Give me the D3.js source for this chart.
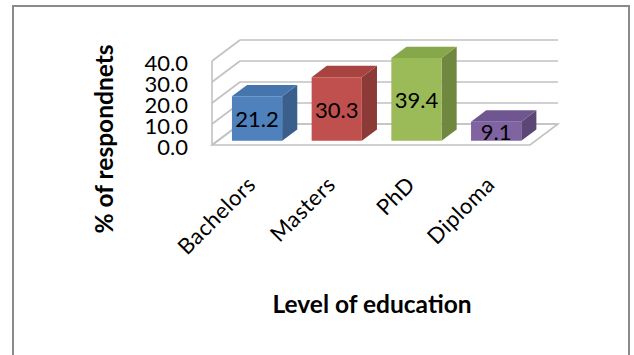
<!DOCTYPE html>
<html>
<head>
<meta charset="utf-8">
<script src="https://cdn.jsdelivr.net/npm/d3@7"></script>
<style>
  body { margin: 0; background: #fff; }
  text { font-family: Lato, "Open Sans", sans-serif; }
</style>
</head>
<body>
<svg id="chart" width="634" height="355"></svg>
<script>
const categories = ["Bachelors", "Masters", "PhD", "Diploma"];
const values = [21.2, 30.3, 39.4, 9.1];
const yTicks = [0, 10, 20, 30, 40];
const fronts = ["#4f81bd", "#c0504d", "#9bbb59", "#8064a2"];
const tops = ["#4674ad", "#a9433f", "#87a74b", "#6f5690"];
const sides = ["#3a5f8c", "#8c3a38", "#6f873f", "#5b4676"];

const svg = d3.select("#chart");

// outer frame
svg.append("rect")
  .attr("x", 13).attr("y", 6)
  .attr("width", 616).attr("height", 360)
  .attr("fill", "#fff")
  .attr("stroke", "#8a8a8a")
  .attr("stroke-width", 2);

// front plane scales, depth goes up-right
const x = d3.scaleBand()
  .domain(categories)
  .range([212, 530])
  .paddingInner(0.37)
  .paddingOuter(0.18);

const y = d3.scaleLinear().domain([0, 40]).range([145, 61]);
const depth = { dx: 28, dy: -21 };
const proj = (px, py, z) => [px + depth.dx * z, py + depth.dy * z];

const grid = svg.append("g")
  .attr("fill", "none")
  .attr("stroke", "#c2c2c2")
  .attr("stroke-width", 1.6);

// floor
const floor = [proj(212, y(0), 0), proj(530, y(0), 0), proj(530, y(0), 1), proj(212, y(0), 1)];
grid.append("path")
  .attr("d", d3.line()(floor) + "Z")
  .attr("fill", "#fff");

// back wall gridlines + left wall lines
yTicks.forEach((t) => {
  const a = proj(212, y(t), 1);
  const b = proj(530, y(t), 1);
  grid.append("line")
    .attr("x1", a[0]).attr("y1", a[1])
    .attr("x2", b[0]).attr("y2", b[1]);
  grid.append("line")
    .attr("x1", 212).attr("y1", y(t))
    .attr("x2", a[0]).attr("y2", a[1]);
});
grid.append("line")
  .attr("x1", 212).attr("y1", y(40))
  .attr("x2", 212).attr("y2", y(0));

// bars
const z0 = 0.2, z1 = 0.74;
const bars = svg.append("g");
categories.forEach((c, i) => {
  const l = x(c), r = x(c) + x.bandwidth();
  const b = y(0), t = y(values[i]);
  const fl = proj(l, b, z0), fr = proj(r, b, z0);
  const tl = proj(l, t, z0), tr = proj(r, t, z0);
  const btr = proj(r, t, z1), btl = proj(l, t, z1), bbr = proj(r, b, z1);

  bars.append("path")
    .attr("d", d3.line()([fr, tr, btr, bbr]) + "Z")
    .attr("fill", sides[i]);
  bars.append("path")
    .attr("d", d3.line()([tl, tr, btr, btl]) + "Z")
    .attr("fill", tops[i]);
  bars.append("path")
    .attr("d", d3.line()([fl, fr, tr, tl]) + "Z")
    .attr("fill", fronts[i]);

  bars.append("text")
    .attr("x", (fl[0] + fr[0]) / 2)
    .attr("y", (fl[1] + tl[1]) / 2 + 1)
    .attr("dy", "0.36em")
    .attr("text-anchor", "middle")
    .attr("font-size", 22)
    .attr("fill", "#000")
    .text(values[i].toFixed(1));
});

// y tick labels
svg.append("g")
  .selectAll("text")
  .data(yTicks)
  .join("text")
  .attr("x", 188)
  .attr("y", (d) => y(d) + 2)
  .attr("dy", "0.36em")
  .attr("text-anchor", "end")
  .attr("font-size", 22)
  .text((d) => d.toFixed(1));

// category labels
svg.append("g")
  .selectAll("text")
  .data(categories)
  .join("text")
  .attr("text-anchor", "end")
  .attr("font-size", 22)
  .attr("letter-spacing", 0.5)
  .attr("transform", (d) => {
    const cx = x(d) + x.bandwidth() / 2 + depth.dx * z0;
    return `translate(${cx},186) rotate(-45)`;
  })
  .text((d) => d);

// axis titles
svg.append("text")
  .attr("x", 372)
  .attr("y", 313)
  .attr("text-anchor", "middle")
  .attr("font-size", 24.5)
  .attr("font-weight", "bold")
  .text("Level of education");

svg.append("text")
  .attr("transform", "translate(113,139) rotate(-90)")
  .attr("text-anchor", "middle")
  .attr("font-size", 24.5)
  .attr("font-weight", "bold")
  .text("% of respondnets");
</script>
</body>
</html>
